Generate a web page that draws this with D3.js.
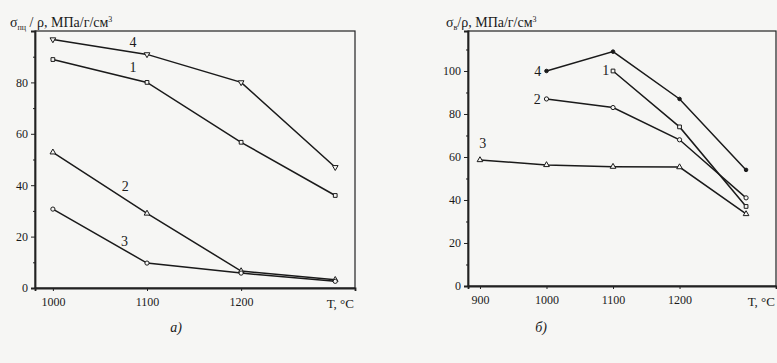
<!DOCTYPE html>
<html>
<head>
<meta charset="utf-8">
<script src="https://cdn.jsdelivr.net/npm/d3@7"></script>
<style>
  body { margin: 0; background: #f6f6f4; }
  svg { font-family: "Liberation Serif", "DejaVu Serif", serif; }
  .axis path, .axis line { stroke: #222; }
  .axis text { font-size: 12px; fill: #1a1a1a; font-family: "Liberation Serif", serif; }
</style>
</head>
<body>
<svg id="chart" width="777" height="363"></svg>
<script>
// panel a) - sigma_pc / rho vs T
const tempsA = [1000, 1100, 1200, 1300];
const a1 = [88.9, 80, 56.7, 36];
const a2 = [52.8, 29, 6.6, 3.2];
const a3 = [30.7, 9.7, 5.8, 2.6];
const a4 = [96.7, 90.9, 80, 47];
const ticksAx = [1000, 1100, 1200];
const ticksAy = [0, 20, 40, 60, 80];

// panel b) - sigma_v / rho vs T
const tempsB = [900, 1000, 1100, 1200, 1300];
const b1 = [null, null, 100, 74, 37];
const b2 = [null, 87, 83, 68, 41];
const b3 = [58.6, 56.3, 55.5, 55.3, 33.5];
const b4 = [null, 100, 109, 87, 54];
const ticksBx = [900, 1000, 1100, 1200];
const ticksBy = [0, 20, 40, 60, 80, 100];

const svg = d3.select("#chart");

function symbolPath(kind, size) {
  const map = {
    square: d3.symbolSquare,
    circle: d3.symbolCircle,
    triangle: d3.symbolTriangle,
    tridown: d3.symbolTriangle,
    dot: d3.symbolCircle
  };
  return d3.symbol(map[kind], size)();
}

function panel(opt) {
  const x = d3.scaleLinear().domain(opt.xDomain).range([opt.left, opt.right]);
  const y = d3.scaleLinear().domain(opt.yDomain).range([opt.bottom, opt.top]);
  const g = svg.append("g");

  // frame
  g.append("rect")
    .attr("x", opt.left).attr("y", opt.top)
    .attr("width", opt.right - opt.left).attr("height", opt.bottom - opt.top)
    .attr("fill", "none").attr("stroke", "#222").attr("stroke-width", 1.2);

  // minor y ticks
  g.append("g").attr("class", "axis")
    .attr("transform", `translate(${opt.left},0)`)
    .call(d3.axisLeft(y).tickValues(opt.yMinor).tickSize(2).tickFormat(""))
    .call(s => s.select(".domain").remove());

  g.append("g").attr("class", "axis")
    .attr("transform", `translate(${opt.left},0)`)
    .call(d3.axisLeft(y).tickValues(opt.yTicks).tickSize(4).tickPadding(3).tickFormat(d3.format("d")))
    .call(s => s.select(".domain").attr("stroke-width", 1.8));

  g.append("g").attr("class", "axis")
    .attr("transform", `translate(0,${opt.bottom})`)
    .call(d3.axisBottom(x).tickValues(opt.xTicks).tickSize(3).tickPadding(6).tickFormat(d3.format("d")))
    .call(s => s.select(".domain").attr("stroke-width", 1.8));

  const line = d3.line()
    .x(d => x(d[0])).y(d => y(d[1]));

  opt.series.forEach(s => {
    const pts = opt.temps.map((t, i) => [t, s.values[i]]).filter(d => d[1] != null);
    g.append("path").datum(pts)
      .attr("d", line)
      .attr("fill", "none").attr("stroke", "#1a1a1a").attr("stroke-width", 1.5);
    g.selectAll(null).data(pts).enter().append("path")
      .attr("d", symbolPath(s.marker, s.marker === "dot" ? 10 : 14))
      .attr("transform", d => `translate(${x(d[0])},${y(d[1])})` + (s.marker === "tridown" ? " rotate(180)" : ""))
      .attr("fill", s.marker === "dot" ? "#1a1a1a" : "#f6f6f4")
      .attr("stroke", "#1a1a1a").attr("stroke-width", 1);
    g.append("text")
      .attr("x", x(s.labelAt[0])).attr("y", y(s.labelAt[1]))
      .attr("text-anchor", "middle")
      .style("font-size", "14px").attr("fill", "#1a1a1a")
      .text(s.name);
  });

  // title
  const t = g.append("text")
    .attr("x", opt.titleX).attr("y", 27)
    .style("font-size", "14px").attr("fill", "#1a1a1a");
  t.append("tspan").text("σ");
  t.append("tspan").attr("dy", 3).style("font-size", "8px").text(opt.sub);
  t.append("tspan").attr("dy", -3).text(opt.titleRest);
  t.append("tspan").attr("dy", -5).style("font-size", "8px").text("3");

  g.append("text")
    .attr("x", opt.right - 1).attr("y", opt.bottom + 20)
    .attr("text-anchor", "end")
    .style("font-size", "13px").attr("fill", "#1a1a1a")
    .text("T, °C");

  g.append("text")
    .attr("x", opt.capX).attr("y", 332)
    .attr("text-anchor", "middle")
    .style("font-size", "14px").style("font-style", "italic").attr("fill", "#1a1a1a")
    .text(opt.caption);
}

panel({
  left: 35, right: 355, top: 31, bottom: 288,
  xDomain: [981, 1321], yDomain: [0, 100],
  xTicks: ticksAx, yTicks: ticksAy, yMinor: [10, 30, 50, 70, 90],
  temps: tempsA,
  series: [
    {name: "1", values: a1, marker: "square", labelAt: [1085, 84]},
    {name: "2", values: a2, marker: "triangle", labelAt: [1077, 37.7]},
    {name: "3", values: a3, marker: "circle", labelAt: [1076, 16.3]},
    {name: "4", values: a4, marker: "tridown", labelAt: [1085, 93.8]}
  ],
  sub: "пц", titleRest: " / ρ, МПа/г/см", titleX: 10,
  caption: "а)", capX: 176
});

panel({
  left: 468, right: 776, top: 31, bottom: 286,
  xDomain: [882, 1345], yDomain: [0, 118.6],
  xTicks: ticksBx, yTicks: ticksBy, yMinor: [10, 30, 50, 70, 90, 110],
  temps: tempsB,
  series: [
    {name: "1", values: b1, marker: "square", labelAt: [1089, 98]},
    {name: "2", values: b2, marker: "circle", labelAt: [986, 84.7]},
    {name: "3", values: b3, marker: "triangle", labelAt: [904, 64]},
    {name: "4", values: b4, marker: "dot", labelAt: [987, 97.7]}
  ],
  sub: "в", titleRest: "/ρ, МПа/г/см", titleX: 446,
  caption: "б)", capX: 541
});
</script>
</body>
</html>
